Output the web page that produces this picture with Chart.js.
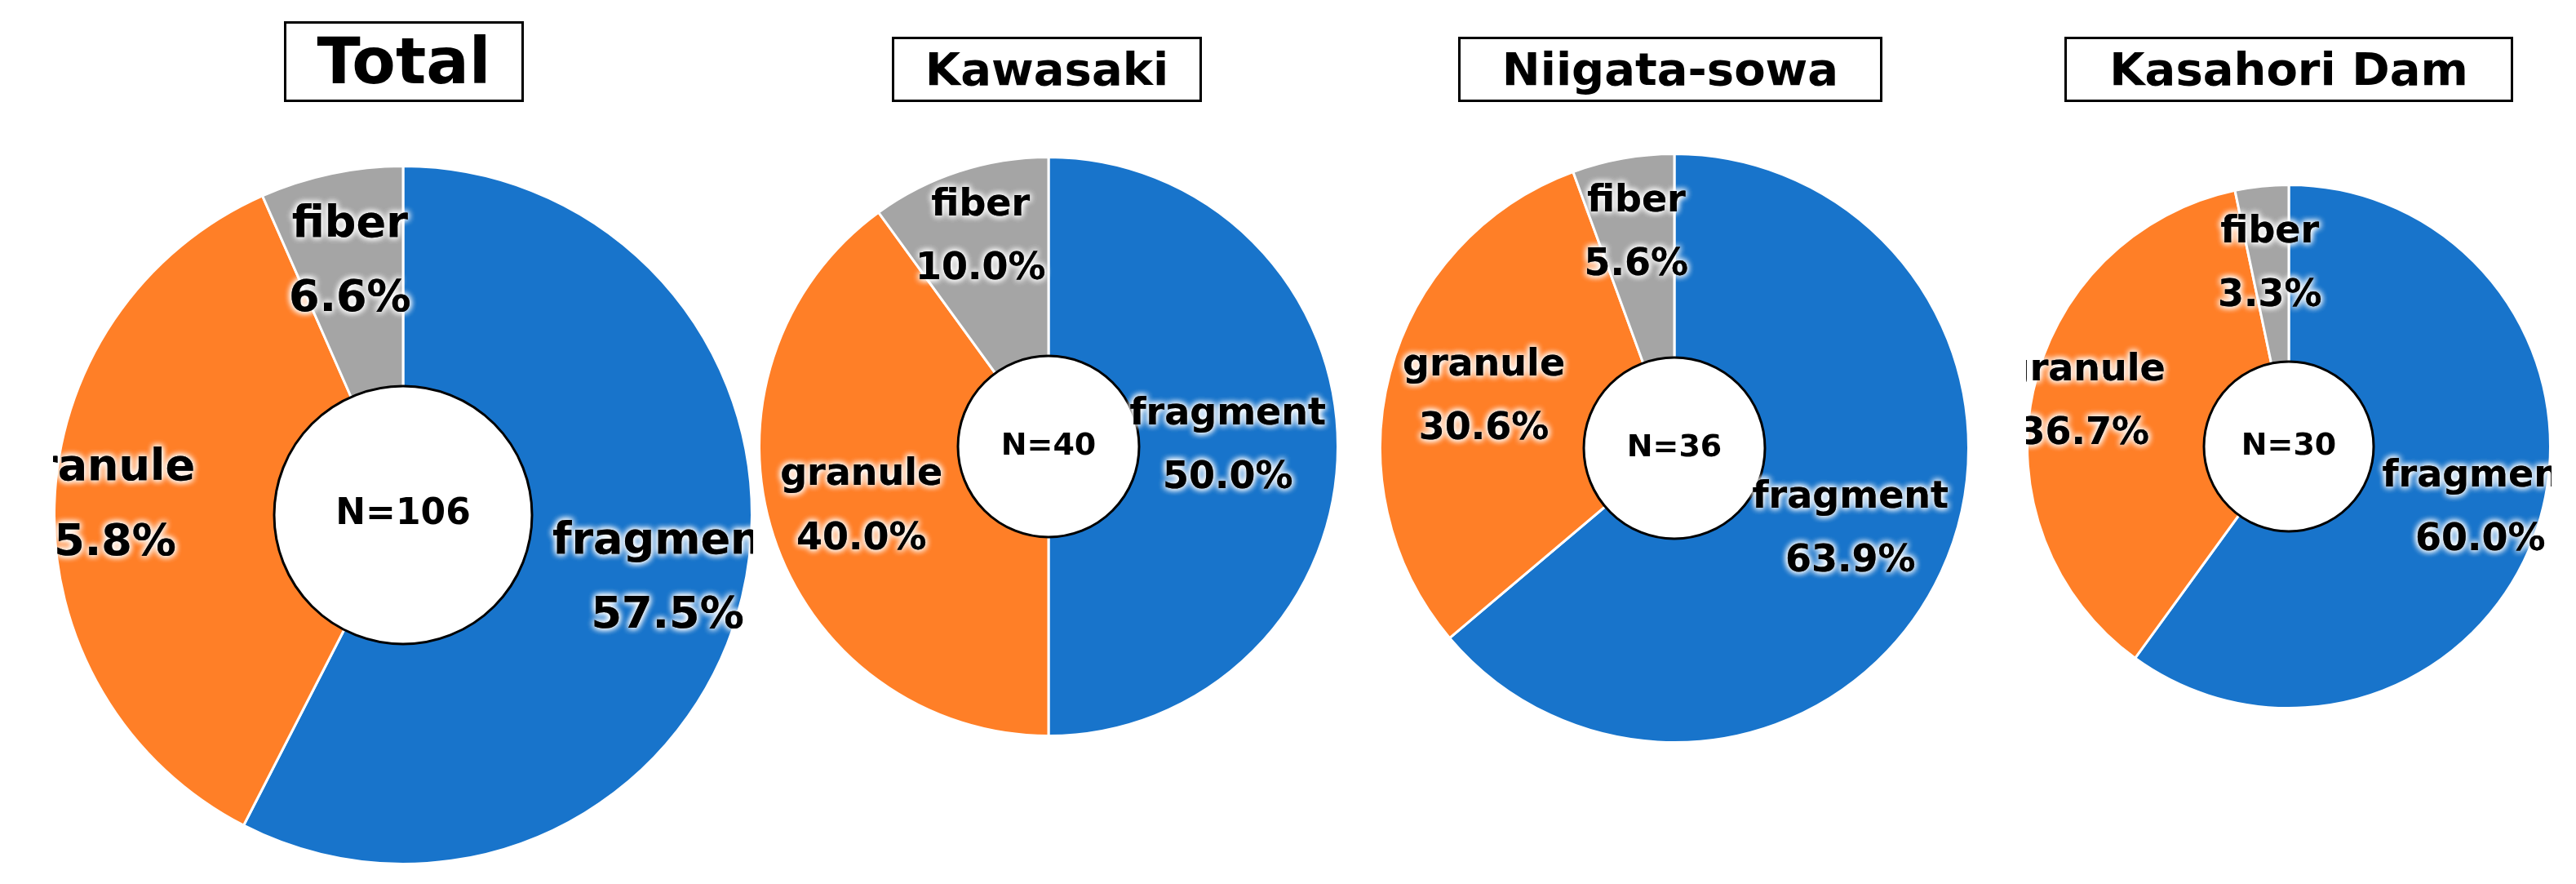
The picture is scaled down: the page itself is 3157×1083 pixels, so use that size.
<!DOCTYPE html>
<html>
<head>
<meta charset="utf-8">
<script src="https://cdn.jsdelivr.net/npm/chart.js@4"></script>
<style>
  body { margin: 0; width: 3157px; height: 1083px; background: #fff; position: relative; overflow: hidden; font-family: "DejaVu Sans", sans-serif; }
  .title { position: absolute; border: 3px solid #000; font-weight: bold; text-align: center; box-sizing: border-box; color: #000; }
  canvas { position: absolute; }
</style>
</head>
<body>
<script>
var categories = ['fragment', 'granule', 'fiber'];
var sites = ['Total', 'Kawasaki', 'Niigata-sowa', 'Kasahori Dam'];
var counts = [106, 40, 36, 30];
var totalValues = [57.5, 35.8, 6.6];
var kawasakiValues = [50.0, 40.0, 10.0];
var niigataValues = [63.9, 30.6, 5.6];
var kasahoriValues = [60.0, 36.7, 3.3];
var colors = ['#1874CB', '#FF7F27', '#A5A5A5'];

var seriesList = [totalValues, kawasakiValues, niigataValues, kasahoriValues];
// layout: center, outer radius, inner radius, label distances, font sizes, title box
var layout = [
  { cx: 494, cy: 631, r: 427, inner: 158, frac: [0.78, 0.87, 0.74], font: 54, nFont: 44, box: [348, 26, 294, 99], tFont: 78 },
  { cx: 1285, cy: 547, r: 354, inner: 111, frac: [0.62, 0.68, 0.76], font: 46, nFont: 38, box: [1093, 45, 380, 80], tFont: 56 },
  { cx: 2052, cy: 549, r: 360, inner: 111, frac: [0.66, 0.67, 0.74], font: 46, nFont: 38, box: [1787, 45, 520, 80], tFont: 56 },
  { cx: 2805, cy: 547, r: 320, inner: 104, frac: [0.77, 0.8, 0.7], font: 46, nFont: 38, box: [2530, 45, 550, 80], tFont: 56 }
];

var labelPlugin = {
  id: 'labels',
  afterDatasetsDraw: function (chart) {
    var ctx = chart.ctx;
    var opt = chart.options.plugins.labels;
    var arcs = chart.getDatasetMeta(0).data;
    var vals = chart.data.datasets[0].data;
    var cx = arcs[0].x, cy = arcs[0].y;
    ctx.save();
    // center circle
    ctx.beginPath();
    ctx.arc(cx, cy, opt.inner, 0, Math.PI * 2);
    ctx.fillStyle = '#fff';
    ctx.fill();
    ctx.lineWidth = 3;
    ctx.strokeStyle = '#000';
    ctx.stroke();
    ctx.fillStyle = '#000';
    ctx.textAlign = 'center';
    ctx.textBaseline = 'middle';
    ctx.font = 'bold ' + opt.nFont + 'px "DejaVu Sans"';
    ctx.fillText('N=' + opt.n, cx, cy);
    // slice labels with white glow
    ctx.font = 'bold ' + opt.font + 'px "DejaVu Sans"';
    arcs.forEach(function (arc, i) {
      var p = arc.getProps(['startAngle', 'endAngle', 'outerRadius']);
      var mid = (p.startAngle + p.endAngle) / 2;
      var d = p.outerRadius * opt.frac[i];
      var x = cx + Math.cos(mid) * d, y = cy + Math.sin(mid) * d;
      var gap = opt.font * 0.85;
      var lines = [chart.data.labels[i], vals[i].toFixed(1) + '%'];
      lines.forEach(function (t, k) {
        var ly = y + (k === 0 ? -gap : gap);
        ctx.shadowColor = '#fff';
        ctx.shadowBlur = 8;
        ctx.fillStyle = '#000';
        for (var j = 0; j < 3; j++) ctx.fillText(t, x, ly);
        ctx.shadowBlur = 0;
      });
    });
    ctx.restore();
  }
};

seriesList.forEach(function (vals, idx) {
  var L = layout[idx];
  var t = document.createElement('div');
  t.className = 'title';
  t.textContent = sites[idx];
  t.style.left = L.box[0] + 'px';
  t.style.top = L.box[1] + 'px';
  t.style.width = L.box[2] + 'px';
  t.style.height = L.box[3] + 'px';
  t.style.fontSize = L.tFont + 'px';
  t.style.lineHeight = (L.box[3] - 6) + 'px';
  document.body.appendChild(t);

  var size = L.r * 2 + 4;
  var c = document.createElement('canvas');
  c.style.left = (L.cx - size / 2) + 'px';
  c.style.top = (L.cy - size / 2) + 'px';
  c.style.width = size + 'px';
  c.style.height = size + 'px';
  c.width = size; c.height = size;
  document.body.appendChild(c);

  new Chart(c.getContext('2d'), {
    type: 'pie',
    data: {
      labels: categories,
      datasets: [{ data: vals, backgroundColor: colors, borderColor: '#fff', borderWidth: 3 }]
    },
    options: {
      responsive: false,
      animation: false,
      layout: { padding: 0 },
      plugins: {
        legend: { display: false },
        tooltip: { enabled: false },
        labels: { inner: L.inner, frac: L.frac, font: L.font, nFont: L.nFont, n: counts[idx] }
      }
    },
    plugins: [labelPlugin]
  });
});
</script>
</body>
</html>
